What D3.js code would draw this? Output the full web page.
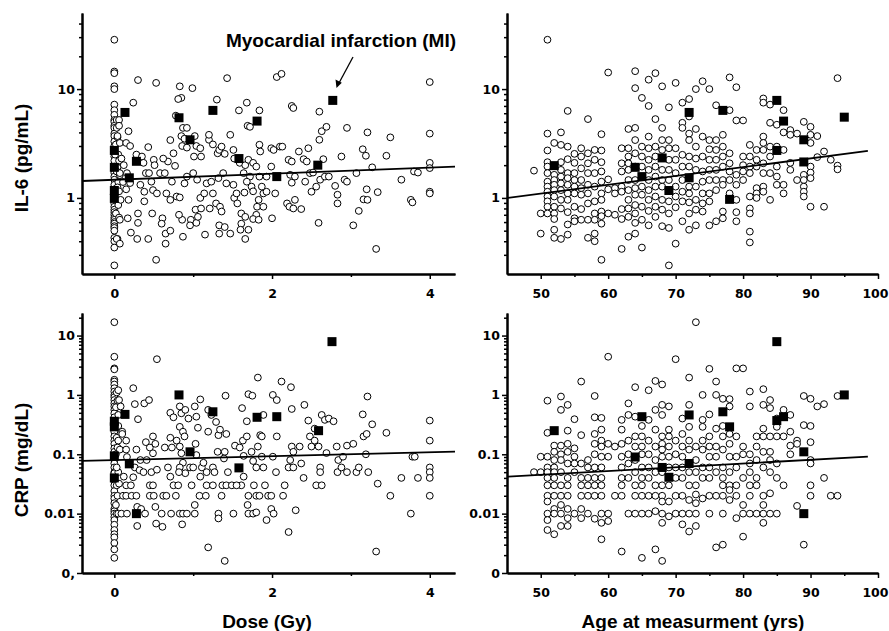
<!DOCTYPE html>
<html lang="en">
<head>
<meta charset="utf-8">
<title>IL-6 and CRP vs dose and age</title>
<script src="https://d3js.org/d3.v7.min.js"></script>
<style>
    body { margin: 0; background: #fff; }
    svg { display: block; }
    .axis path, .axis line { stroke: #000; }
    .axis path { stroke-width: 2; }
    .axis line { stroke-width: 1.5; }
    .axis text { font-family: "DejaVu Sans", sans-serif; font-weight: bold; font-size: 12.5px; fill: #000; }
    .title { font-family: "Liberation Sans", Arial, sans-serif; font-weight: bold; font-size: 19px; fill: #000; }
    .pt { fill: #fff; stroke: #000; stroke-width: 1; }
    .mi { fill: #000; }
    .fit { stroke: #000; stroke-width: 1.8; fill: none; }
</style>
</head>
<body>
<svg id="chart" width="889" height="631"></svg>
<script>
// axis ticks and labels
const doseTicks = [0, 2, 4];
const doseMinor = [1, 3];
const ageTicks = [50, 60, 70, 80, 90, 100];
const ageMinor = [55, 65, 75, 85, 95];
const il6Ticks = [1, 10];
const il6Labels = ["1", "10"];
const crpTicks = [0.001, 0.01, 0.1, 1, 10];
const crpLabelsDose = ["0,", "0.01", "0.1", "1", "10"];
const crpLabelsAge = ["0", "0.01", "0.1", "1", "10"];

// regression lines: [intercept, slope] of log10(value), and x range
const fitIl6Dose = [0.167, 0.0279];
const fitCrpDose = [-1.099, 0.0334];
const fitIl6Age = [-0.364, 0.00808];
const fitCrpAge = [-1.663, 0.00634];
const doseFitRange = [-0.41, 4.32];
const ageFitRange = [45, 98.5];

// myocardial infarction cases (filled squares)
const doseIl6MI = [[0.135,6.1],[0.82,5.45],[0.96,3.42],[1.25,6.37],[1.81,5.08],[2.77,7.87],[0.28,2.17],
    [0.19,1.53],[0,2.73],[0,1.91],[0,1.17],[0,0.99],[1.58,2.3],[2.06,1.57],[2.58,2.0]];
const ageIl6MI = [[52,1.98],[72,6.1],[77,6.37],[85,7.87],[86,5.08],[95,5.52],[85,2.73],[89,3.42],
    [89,2.14],[68,2.33],[64,1.91],[65,1.57],[72,1.53],[69,1.17],[78,0.97]];
const doseCrpMI = [[2.76,7.9],[0.82,1.0],[0.135,0.47],[1.25,0.52],[1.81,0.42],[2.06,0.43],[2.59,0.25],
    [0,0.36],[0,0.29],[0,0.094],[0,0.04],[0.96,0.11],[0.19,0.069],[1.58,0.059],[0.28,0.01]];
const ageCrpMI = [[85,7.9],[95,1.0],[52,0.25],[65,0.43],[72,0.46],[77,0.52],[78,0.29],[85,0.37],
    [86,0.43],[89,0.11],[89,0.01],[64,0.09],[68,0.06],[69,0.041],[72,0.07]];

// other subjects (open circles): [dose, IL-6]
const doseIl6 = [
    [0,28.4],[0,14.5],[0,14],[0,10.6],[0,10],[0,7.2],[0,6.4],[0,5.8],[0,5.2],[0,5.0],[0,4.6],[0,4.4],
    [0,3.9],[0,3.7],[0,3.3],[0,3.0],[0,2.6],[0,2.4],[0,2.2],[0,1.94],[0,1.7],[0,1.57],[0,1.47],[0,1.32],
    [0,1.2],[0,1.07],[0,0.96],[0,0.89],[0,0.83],[0,0.78],[0,0.74],[0,0.70],[0,0.66],[0,0.63],[0,0.60],
    [0,0.58],[0,0.55],[0,0.53],[0,0.50],[0,0.43],[0,0.40],[0,0.35],[0,0.24],
    [0.03,5.2],[0.03,4.4],[0.04,3.6],[0.02,3.1],[0.05,2.5],[0.06,2.2],[0.04,1.9],[0.03,1.75],[0.07,1.62],
    [0.05,1.4],[0.04,1.25],[0.06,1.15],[0.03,0.95],[0.05,0.86],[0.02,0.72],[0.06,0.66],[0.04,0.42],
    [0.06,5.2],[0.06,4.6],[0.04,3.7],[0.07,3.2],[0.01,2.5],[0.09,2.3],[0.12,2.0],[0.07,1.69],[0.16,1.69],
    [0.11,1.4],[0.15,1.2],[0.2,1.37],[0.08,0.96],[0.07,0.63],[0.03,0.42],[0.07,0.38],
    [0.18,4.1],[0.15,3.2],[0.2,3.0],[0.24,7.5],[0.30,12.1],[0.30,0.72],[0.30,0.59],[0.29,0.42],[0.21,0.48],
    [0.17,0.65],[0.18,0.96],[0.33,1.32],[0.28,2.5],[0.35,2.4],[0.43,2.93],[0.38,0.93],[0.38,1.14],[0.40,1.69],
    [0.44,1.69],[0.47,1.41],[0.50,2.24],[0.51,2.0],[0.37,2.1],[0.49,1.18],[0.54,1.1],[0.43,0.42],[0.48,0.72],
    [0.53,11.4],[0.53,0.27],[0.61,0.65],[0.60,0.58],[0.65,0.47],[0.65,0.38],[0.71,0.50],[0.87,0.44],[0.86,0.63],
    [0.82,0.70],[0.97,0.63],[0.96,0.56],[1.04,0.59],[1.06,0.67],[1.03,0.78],[1.1,0.80],[1.15,0.46],[0.83,10.6],
    [0.99,10.2],[0.85,8.3],[0.81,8.1],[0.78,5.7],[0.87,4.4],[0.92,4.4],[0.85,3.7],[0.86,3.0],[0.89,3.5],
    [0.92,2.9],[1.02,3.7],[1.04,3.0],[1.01,2.4],[1.09,2.86],[1.1,2.4],[0.75,2.57],[0.77,1.97],[0.68,2.16],
    [0.71,3.4],[0.62,2.3],[0.58,1.69],[0.64,1.69],[0.73,1.41],[0.66,1.1],[0.71,0.96],[0.79,1.03],[0.83,1.01],
    [0.89,1.36],[0.92,1.57],[1.0,1.69],[1.05,1.47],[1.09,1.0],[1.14,1.1],[1.17,1.36],[1.2,3.42],[1.2,3.8],
    [1.25,3.1],[1.31,2.57],[1.33,2.76],[1.36,2.96],[1.4,2.54],[1.3,8.0],[1.43,12.6],[1.47,3.8],[1.32,1.52],
    [1.38,1.69],[1.42,1.36],[1.23,1.41],[1.25,1.1],[1.21,0.80],[1.29,0.89],[1.34,0.83],[1.36,0.75],[1.33,0.56],
    [1.40,0.54],[1.47,0.47],[1.33,0.47],[1.51,1.32],[1.52,1.0],[1.56,0.89],[1.55,1.1],[1.51,2.76],[1.52,2.3],
    [1.58,6.37],[1.68,7.5],[1.69,4.6],[1.72,4.5],[1.59,2.1],[1.66,2.0],[1.70,2.24],[1.76,2.1],[1.64,1.69],
    [1.72,1.57],[1.68,1.41],[1.74,1.27],[1.65,1.12],[1.76,1.15],[1.61,0.72],[1.66,0.67],[1.61,0.58],[1.70,0.51],
    [1.60,0.51],[1.66,0.42],[1.84,6.37],[1.84,3.08],[1.85,2.67],[1.80,1.94],[1.84,1.57],[1.87,1.27],[1.89,1.1],
    [1.83,0.96],[1.81,0.83],[1.80,0.70],[1.76,0.64],[1.83,0.63],[1.89,0.83],[1.93,1.14],[1.93,1.57],[1.99,1.94],
    [1.99,2.86],[2.02,2.76],[2.0,0.65],[2.04,1.1],[2.06,12.9],[2.12,13.8],[2.25,7.0],[2.27,6.7],[2.1,2.96],
    [2.13,2.96],[2.21,2.24],[2.25,2.16],[2.23,1.63],[2.29,1.57],[2.25,1.38],[2.19,0.89],[2.22,0.83],[2.27,0.80],
    [2.29,0.96],[2.37,0.79],[2.34,2.67],[2.40,2.27],[2.44,2.16],[2.46,2.86],[2.42,1.41],[2.48,1.69],[2.52,1.71],
    [2.50,1.14],[2.56,1.27],[2.60,6.2],[2.60,3.42],[2.63,4.1],[2.69,4.5],[2.65,2.27],[2.61,1.47],[2.67,1.57],
    [2.72,1.57],[2.59,0.59],[2.80,1.29],[2.83,1.07],[2.83,0.89],[2.88,2.4],[2.92,1.47],[2.95,1.41],[2.95,4.4],
    [3.03,0.56],[3.07,1.69],[3.1,0.76],[3.15,2.8],[3.19,2.44],[3.20,1.2],[3.16,0.97],[3.21,0.96],[3.21,4.0],
    [3.27,1.91],[3.34,1.13],[3.32,0.34],[3.45,2.44],[3.50,3.6],[3.64,1.47],[3.80,1.75],[3.85,1.71],[3.76,0.96],
    [3.78,0.91],[4.0,11.6],[4.0,3.9],[4.0,2.1],[4.0,1.88],[4.0,1.14],[4.0,1.1]
];

// [dose, CRP]
const doseCrp = [
    [0,16.8],[0,4.4],[0,2.8],[0,2.7],[0,1.8],[0,1.68],[0,1.5],[0,1.3],[0,1.14],[0,1.0],[0,0.92],[0,0.82],
    [0,0.72],[0,0.64],[0,0.56],[0,0.49],[0,0.42],[0,0.35],[0,0.28],[0,0.24],[0,0.2],[0,0.17],[0,0.15],
    [0,0.126],[0,0.11],[0,0.08],[0,0.07],[0,0.06],[0,0.05],[0,0.048],[0,0.035],[0,0.03],[0,0.024],[0,0.02],
    [0,0.018],[0,0.015],[0,0.012],[0,0.011],[0,0.01],[0,0.0088],[0,0.0078],[0,0.0065],[0,0.0053],[0,0.0045],
    [0,0.004],[0,0.0032],[0,0.0025],[0,0.0018],
    [0.03,1.1],[0.04,0.8],[0.02,0.62],[0.05,0.3],[0.03,0.19],[0.04,0.13],[0.02,0.1],[0.05,0.05],[0.03,0.03],
    [0.04,0.02],[0.02,0.014],[0.03,0.01],[0.05,0.01],
    [0.05,1.2],[0.06,0.82],[0.08,0.64],[0.05,0.46],[0.05,0.17],[0.07,0.12],[0.03,0.06],[0.1,0.24],[0.1,0.22],
    [0.15,0.17],[0.15,0.12],[0.16,0.09],[0.12,0.042],[0.06,0.032],[0.15,0.03],[0.21,0.03],[0.11,0.02],[0.15,0.02],
    [0.22,0.02],[0.28,0.02],[0.09,0.01],[0.16,0.01],[0.24,1.3],[0.26,0.70],[0.30,0.39],[0.28,0.12],[0.33,0.08],
    [0.26,0.06],[0.24,0.041],[0.32,0.054],[0.37,0.05],[0.29,0.013],[0.29,0.0062],[0.34,0.012],[0.39,0.01],
    [0.38,0.72],[0.44,0.82],[0.40,0.16],[0.45,0.13],[0.49,0.20],[0.52,0.15],[0.54,4.0],[0.49,0.104],[0.41,0.08],
    [0.47,0.05],[0.45,0.03],[0.49,0.03],[0.45,0.02],[0.50,0.02],[0.52,0.013],[0.53,0.0068],[0.61,0.006],
    [0.60,0.01],[0.54,0.055],[0.62,0.02],[0.66,0.02],[0.68,0.06],[0.71,0.50],[0.75,0.42],[0.64,0.13],[0.71,0.19],
    [0.73,0.13],[0.71,0.042],[0.75,0.03],[0.78,0.02],[0.72,0.01],[0.83,0.64],[0.85,0.49],[0.9,0.56],[0.94,0.40],
    [0.83,0.29],[0.87,0.24],[0.89,0.20],[0.79,0.17],[0.83,0.135],[0.85,0.104],[0.87,0.072],[0.83,0.06],
    [0.9,0.048],[0.82,0.05],[0.81,0.03],[0.83,0.01],[0.87,0.01],[0.86,0.0066],[0.92,0.01],[0.96,0.06],
    [1.02,0.64],[1.04,0.43],[1.06,0.28],[1.03,0.15],[1.04,0.097],[1.09,0.84],[1.00,0.06],[0.98,0.03],
    [1.02,0.014],[1.02,0.01],[1.08,0.02],[1.09,0.042],[1.11,0.06],[1.13,0.072],[1.17,0.03],[1.16,0.02],
    [1.17,0.05],[1.19,0.56],[1.19,0.24],[1.23,0.46],[1.19,0.0027],[1.25,0.06],[1.27,0.05],[1.25,0.03],
    [1.29,0.35],[1.31,0.11],[1.32,0.21],[1.34,0.26],[1.37,0.03],[1.36,0.02],[1.32,0.01],[1.32,0.0083],
    [1.41,0.97],[1.40,0.0016],[1.42,0.22],[1.40,0.11],[1.39,0.085],[1.44,0.05],[1.42,0.03],[1.49,0.03],
    [1.51,0.01],[1.53,0.14],[1.59,0.13],[1.61,0.03],[1.55,0.03],[1.62,0.6],[1.63,0.17],[1.64,0.094],
    [1.64,0.042],[1.68,0.36],[1.68,0.2],[1.70,1.03],[1.75,0.97],[1.70,0.02],[1.69,0.014],[1.70,0.01],
    [1.76,0.01],[1.77,0.03],[1.74,0.11],[1.76,0.077],[1.80,0.06],[1.82,1.96],[1.85,0.21],[1.87,0.2],
    [1.82,0.135],[1.87,0.091],[1.89,0.06],[1.80,0.02],[1.84,0.02],[1.80,0.0105],[1.89,0.46],[1.91,0.03],
    [1.93,0.0078],[1.95,0.02],[1.99,0.02],[1.99,0.012],[2.02,0.01],[2.01,1.0],[2.06,0.82],[2.06,0.2],
    [2.01,0.091],[2.05,0.05],[2.12,1.68],[2.14,0.02],[2.16,0.03],[2.21,0.0049],[2.24,1.35],[2.25,0.58],
    [2.25,0.135],[2.27,0.11],[2.23,0.08],[2.21,0.06],[2.27,0.06],[2.30,0.0114],[2.37,0.07],[2.35,0.135],
    [2.40,0.04],[2.41,0.68],[2.46,0.37],[2.48,0.2],[2.50,0.135],[2.54,0.27],[2.59,0.135],[2.54,0.17],
    [2.61,0.06],[2.56,0.03],[2.63,0.03],[2.61,0.05],[2.63,0.46],[2.67,0.38],[2.72,0.40],[2.78,0.36],
    [2.69,0.105],[2.82,0.135],[2.84,0.08],[2.83,0.05],[2.88,0.06],[2.90,0.091],[2.95,0.05],[2.95,0.14],
    [3.03,0.15],[3.07,0.05],[3.10,0.06],[3.15,0.47],[3.16,0.2],[3.20,0.22],[3.19,0.1],[3.22,0.05],[3.21,0.94],
    [3.27,0.32],[3.34,0.032],[3.32,0.0023],[3.45,0.23],[3.50,0.02],[3.64,0.04],[3.76,0.01],[3.78,0.091],
    [3.81,0.091],[3.85,0.04],[4.0,0.37],[4.0,0.17],[4.0,0.06],[4.0,0.05],[4.0,0.04],[4.0,0.02]
];

// [age, IL-6 values at that age]
const ageIl6 = [
    [49,[1.78]], [50,[0.72,0.47]],
    [51,[28.4,3.9,2.73,2.13,1.94,1.69,1.41,1.27,1.14,1.03,0.93,0.83,0.72]],
    [52,[3.2,1.63,1.46,1.32,1.18,1.03,0.83,0.72,0.64,0.51,0.43]],
    [53,[4.0,3.07,2.13,1.81,1.57,1.36,1.18,0.96,0.80,0.42]],
    [54,[6.3,2.96,2.27,1.69,1.52,1.32,1.10,0.96,0.74,0.57,0.46]],
    [55,[2.54,2.1,1.69,1.46,1.27,1.10,0.83,0.65,0.61]],
    [56,[2.86,2.4,1.87,1.46,1.23,1.07,0.79,0.63]],
    [57,[5.3,2.57,2.08,1.69,1.32,1.10,0.89,0.63,0.43]],
    [58,[2.76,2.24,1.69,1.27,0.93,0.72,0.63,0.47,0.40]],
    [59,[3.85,2.73,2.13,1.75,1.41,1.10,0.96,0.75,0.68,0.58,0.27]],
    [60,[14.2,1.48,1.2,0.72]], [61,[1.23,1.10,0.70]],
    [62,[2.86,2.08,1.75,1.27,1.14,0.79,0.64,0.34]],
    [63,[4.3,2.86,2.4,2.08,1.81,1.46,1.18,0.96,0.80,0.67,0.44]],
    [64,[14.6,10.2,4.4,3.4,2.57,1.94,1.46,1.23,1.07,0.86,0.72,0.59,0.47]],
    [65,[8.3,2.96,2.4,1.94,1.27,1.07,0.83,0.63,0.35]],
    [66,[12.2,7.0,3.66,2.86,2.24,1.81,1.46,1.18,0.96,0.76,0.56]],
    [67,[14,5.3,2.96,2.4,1.94,1.57,1.27,1.03,0.83,0.67]],
    [68,[10.6,4.4,3.4,2.76,1.81,1.46,1.27,0.96,0.78,0.55]],
    [69,[6.8,3.4,2.86,2.24,1.81,1.46,0.93,0.72,0.53,0.24]],
    [70,[11.4,2.86,2.24,1.69,1.27,1.03,0.82,0.38]],
    [71,[7.5,4.9,4.4,2.49,1.94,1.46,1.14,0.93,0.61]],
    [72,[8.1,5.6,3.9,3.4,2.4,1.94,1.27,1.10,0.91,0.72,0.51]],
    [73,[10,4.3,2.96,2.3,1.81,1.27,0.96,0.78,0.56]],
    [74,[11.8,3.66,2.4,1.75,1.41,1.10,0.89,0.75]],
    [75,[10,3.4,2.8,2.24,1.81,1.46,1.10,0.93,0.56]],
    [76,[7.1,3.4,2.76,2.24,1.81,1.46,1.18,0.61]],
    [77,[3.8,2.96,2.4,1.94,1.46,1.32,0.75,0.65]],
    [78,[12.8,6.4,2.57,2.08,1.75,1.46,1.10]],
    [79,[10.4,5.15,1.63,1.32,0.96,0.74,0.61]],
    [80,[5.15,2.4,2.0,1.75,1.46]],
    [81,[3.07,2.4,1.94,1.69,1.03,0.80,0.72,0.49,0.39]],
    [82,[2.76,2.24,1.94,1.23,1.10,1.0]],
    [83,[8.2,7.5,3.66,3.2,2.76,2.08,1.69,1.27,1.14]],
    [84,[7.2,4.9,2.96,2.4,1.69,0.96]],
    [85,[4.7,2.96,1.94,1.57,1.32]],
    [86,[6.4,4.0,2.76,1.32,1.10]],
    [87,[4.2,3.8,2.1,1.81]], [88,[3.9,1.46]],
    [89,[5.0,1.63,1.46,1.27,1.14,1.03]],
    [90,[4.5,3.8,3.2,1.94,1.71,1.52,0.83]],
    [91,[3.7,2.37]], [92,[2.67,0.83]], [93,[2.24]], [94,[12.6,1.98,1.83]]
];

// [age, CRP values at that age]
const ageCrp = [
    [49,[0.05]], [50,[0.091,0.05]],
    [51,[0.8,0.23,0.091,0.06,0.05,0.04,0.03,0.02,0.016,0.01,0.0078,0.0053]],
    [52,[0.14,0.11,0.08,0.06,0.05,0.04,0.03,0.02,0.012,0.01,0.0045]],
    [53,[0.94,0.56,0.14,0.1,0.08,0.05,0.03,0.02,0.014,0.01,0.0062]],
    [54,[0.68,0.25,0.15,0.11,0.07,0.04,0.03,0.02,0.012,0.0084,0.0062]],
    [55,[0.39,0.126,0.091,0.07,0.05,0.01]],
    [56,[1.68,0.21,0.07,0.04,0.03,0.02,0.012,0.0084]],
    [57,[0.08,0.06,0.04,0.03,0.02,0.01]],
    [58,[0.96,0.42,0.22,0.15,0.1,0.06,0.04,0.03,0.02,0.0082]],
    [59,[0.41,0.26,0.17,0.135,0.091,0.06,0.04,0.03,0.02,0.01,0.007,0.0037]],
    [60,[4.4,0.15,0.091,0.01,0.0075]], [61,[0.135,0.02]],
    [62,[0.38,0.26,0.15,0.091,0.06,0.04,0.03,0.02,0.0023]],
    [63,[0.72,0.46,0.17,0.1,0.07,0.04,0.01]],
    [64,[1.35,0.43,0.2,0.135,0.08,0.05,0.03,0.02,0.01]],
    [65,[0.3,0.2,0.135,0.1,0.06,0.04,0.03,0.02,0.01,0.0018]],
    [66,[1.2,0.38,0.17,0.1,0.06,0.04,0.02,0.01]],
    [67,[1.72,0.56,0.26,0.135,0.08,0.05,0.03,0.02,0.011,0.0025]],
    [68,[1.5,0.68,0.46,0.2,0.15,0.12,0.091,0.05,0.03,0.02,0.016,0.01,0.007,0.0016]],
    [69,[0.64,0.26,0.2,0.135,0.091,0.06,0.03,0.016,0.009]],
    [70,[4.0,0.17,0.1,0.06,0.04,0.02,0.01]],
    [71,[0.4,0.22,0.135,0.091,0.06,0.04,0.02,0.01,0.0066]],
    [72,[1.96,0.68,0.29,0.17,0.12,0.05,0.03,0.017,0.01,0.005]],
    [73,[16.8,0.135,0.08,0.05,0.03,0.021,0.015,0.01,0.0062]],
    [74,[1.0,0.38,0.29,0.17,0.12,0.06,0.04,0.018]],
    [75,[2.75,0.47,0.2,0.135,0.091,0.06,0.04,0.02,0.01]],
    [76,[1.68,1.0,0.27,0.135,0.091,0.05,0.02,0.0027]],
    [77,[0.86,0.3,0.2,0.12,0.06,0.04,0.03,0.02,0.01,0.003]],
    [78,[0.85,0.64,0.22,0.15,0.091,0.05,0.03,0.025,0.017]],
    [79,[2.8,0.2,0.091,0.06,0.03,0.02,0.0084]],
    [80,[2.8,0.135,0.1,0.04,0.014,0.01,0.0041]],
    [81,[1.14,0.64,0.1,0.07,0.05,0.03,0.02,0.01]],
    [82,[0.2,0.135,0.08,0.04,0.03,0.01]],
    [83,[1.25,0.68,0.27,0.2,0.11,0.06,0.02,0.014,0.01,0.007]],
    [84,[0.82,0.6,0.2,0.11,0.08,0.05,0.022,0.01]],
    [85,[0.4,0.29,0.2,0.07,0.04,0.01]],
    [86,[0.56,0.2,0.03]], [87,[0.46,0.24,0.14,0.1]], [88,[0.17,0.15,0.0135]],
    [89,[0.96,0.31,0.003]],
    [90,[0.86,0.3,0.16,0.08,0.07,0.03,0.02]],
    [91,[0.64]], [92,[0.7,0.04]], [93,[0.02]], [94,[0.96,0.02]]
];

const width = 889, height = 631;
const svg = d3.select("#chart");
svg.append("rect").attr("width", width).attr("height", height).attr("fill", "#fff");

// panel frames
const leftX = [82, 455], rightX = [507, 878];
const topY = [274, 13], bottomY = [573, 313];

const doseScaleOf = () => d3.scaleLinear().domain([-0.41, 4.32]).range(leftX);
const ageScaleOf = () => d3.scaleLinear().domain([45, 100]).range(rightX);
const il6ScaleOf = () => d3.scaleLog().domain([0.2, 50]).range(topY);
const crpScaleOf = () => d3.scaleLog().domain([0.001, 24]).range(bottomY);

const flat = cols => cols.flatMap(([a, vals]) => vals.map(v => [a, v]));

const panels = [
    {x: doseScaleOf(), y: il6ScaleOf(), pts: doseIl6, mi: doseIl6MI, fit: fitIl6Dose, fitRange: doseFitRange,
     ticks: doseTicks, minor: doseMinor, yTicks: il6Ticks, yLabels: il6Labels},
    {x: ageScaleOf(), y: il6ScaleOf(), pts: flat(ageIl6), mi: ageIl6MI, fit: fitIl6Age, fitRange: ageFitRange,
     ticks: ageTicks, minor: ageMinor, yTicks: il6Ticks, yLabels: il6Labels},
    {x: doseScaleOf(), y: crpScaleOf(), pts: doseCrp, mi: doseCrpMI, fit: fitCrpDose, fitRange: doseFitRange,
     ticks: doseTicks, minor: doseMinor, yTicks: crpTicks, yLabels: crpLabelsDose},
    {x: ageScaleOf(), y: crpScaleOf(), pts: flat(ageCrp), mi: ageCrpMI, fit: fitCrpAge, fitRange: ageFitRange,
     ticks: ageTicks, minor: ageMinor, yTicks: crpTicks, yLabels: crpLabelsAge}
];

// minor ticks at 2..9 of each decade inside the domain
function logMinor(scale) {
    const [lo, hi] = scale.domain();
    const out = [];
    for (let k = Math.floor(Math.log10(lo)); k <= Math.ceil(Math.log10(hi)); k++) {
        for (let m = 2; m <= 9; m++) {
            const v = m * Math.pow(10, k);
            if (v > lo * 1.0001 && v < hi) out.push(v);
        }
    }
    return out;
}

panels.forEach(p => {
    const g = svg.append("g");
    const x0 = p.x.range()[0], y0 = p.y.range()[0];

    // y axis: minor then major
    g.append("g").attr("class", "axis").attr("transform", `translate(${x0},0)`)
        .call(d3.axisLeft(p.y).tickValues(logMinor(p.y)).tickSize(3).tickSizeOuter(0).tickFormat(""));
    g.append("g").attr("class", "axis").attr("transform", `translate(${x0},0)`)
        .call(d3.axisLeft(p.y).tickValues(p.yTicks).tickSize(5).tickSizeOuter(0).tickPadding(2)
            .tickFormat((d, i) => p.yLabels[i]));

    // x axis
    g.append("g").attr("class", "axis").attr("transform", `translate(0,${y0})`)
        .call(d3.axisBottom(p.x).tickValues(p.minor).tickSize(3).tickSizeOuter(0).tickFormat(""));
    const xa = g.append("g").attr("class", "axis").attr("transform", `translate(0,${y0})`)
        .call(d3.axisBottom(p.x).tickValues(p.ticks).tickSize(5).tickSizeOuter(0).tickPadding(10)
            .tickFormat(d3.format("d")));
    // keep the last label inside the page edge
    xa.selectAll(".tick text").filter(d => d === 100).attr("text-anchor", "end").attr("x", 10);

    // open circles
    g.append("g").selectAll("circle").data(p.pts).join("circle")
        .attr("class", "pt")
        .attr("cx", d => p.x(d[0]))
        .attr("cy", d => p.y(d[1]))
        .attr("r", 3.4);

    // MI squares
    const s = 9;
    g.append("g").selectAll("rect").data(p.mi).join("rect")
        .attr("class", "mi")
        .attr("x", d => p.x(d[0]) - s / 2)
        .attr("y", d => p.y(d[1]) - s / 2)
        .attr("width", s).attr("height", s);

    // regression line
    const line = d3.line().x(d => p.x(d)).y(d => p.y(Math.pow(10, p.fit[0] + p.fit[1] * d)));
    g.append("path").attr("class", "fit").attr("d", line(p.fitRange));
});

// axis titles
svg.append("text").attr("class", "title").attr("text-anchor", "middle")
    .attr("transform", "translate(28,158) rotate(-90)").text("IL-6 (pg/mL)");
svg.append("text").attr("class", "title").attr("text-anchor", "middle")
    .attr("transform", "translate(28,460) rotate(-90)").text("CRP (mg/dL)");
svg.append("text").attr("class", "title").attr("text-anchor", "middle")
    .attr("x", 267).attr("y", 628).text("Dose (Gy)");
svg.append("text").attr("class", "title").attr("text-anchor", "middle")
    .attr("x", 693).attr("y", 628).text("Age at measurment (yrs)");

// annotation with arrow
svg.append("text").attr("class", "title").attr("text-anchor", "middle")
    .attr("x", 341).attr("y", 47).text("Myocardial infarction (MI)");
svg.append("line").attr("x1", 353).attr("y1", 57).attr("x2", 339).attr("y2", 83)
    .attr("stroke", "#000").attr("stroke-width", 1.3);
svg.append("path").attr("d", "M336.5,88 L335.5,79.5 L341.8,82.8 Z").attr("fill", "#000");
</script>
</body>
</html>
